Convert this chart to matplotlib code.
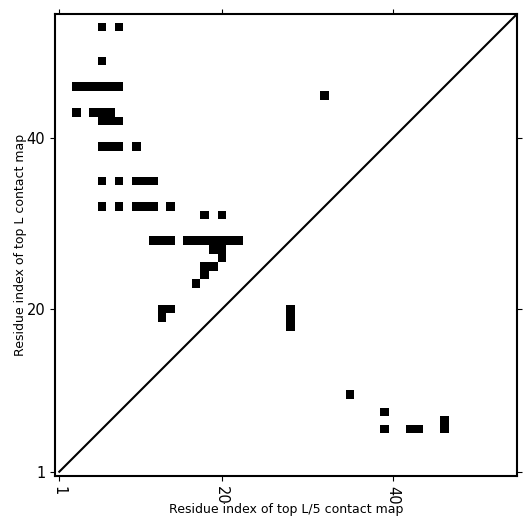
import matplotlib
matplotlib.use("Agg")
import matplotlib.pyplot as plt
import numpy as np

L = 54

# top L contacts (upper triangle), as (i, j) residue pairs
top_L_x = [6, 8, 6, 3, 4, 5, 6, 7, 8, 3, 5, 6, 7, 6, 7, 8,
           6, 7, 8, 10, 6, 8, 10, 11, 12, 6, 8, 10, 11, 12, 14,
           18, 20, 12, 13, 14, 16, 17, 18, 19, 20, 21, 22,
           19, 20, 20, 18, 19, 18, 17, 13, 14, 13, 32]
top_L_y = [53, 53, 49, 46, 46, 46, 46, 46, 46, 43, 43, 43, 43, 42, 42, 42,
           39, 39, 39, 39, 35, 35, 35, 35, 35, 32, 32, 32, 32, 32, 32,
           31, 31, 28, 28, 28, 28, 28, 28, 28, 28, 28, 28,
           27, 27, 26, 25, 25, 24, 23, 20, 20, 19, 45]

# top L/5 contacts (lower triangle)
top_L5_x = [28, 28, 28, 35, 39, 39, 42, 43, 46, 46]
top_L5_y = [18, 19, 20, 10, 8, 6, 6, 6, 6, 7]

ticks = [1, 20, 40]


def main():
    grid = np.zeros((L, L))
    for x, y in zip(top_L_x, top_L_y):
        grid[y - 1, x - 1] = 1
    for x, y in zip(top_L5_x, top_L5_y):
        grid[y - 1, x - 1] = 1

    fig = plt.figure(figsize=(5.31, 5.31), dpi=100)
    ax = fig.add_axes([55 / 531, 55 / 531, 462 / 531, 462 / 531])

    ax.imshow(grid, cmap="Greys", origin="lower", interpolation="nearest",
              extent=(0.5, L + 0.5, 0.5, L + 0.5), vmin=0, vmax=1)
    ax.plot([1, L + 1], [1, L + 1], color="black", lw=1.5)
    ax.set_xlim(0.5, L + 0.5)
    ax.set_ylim(0.5, L + 0.5)

    ax.set_xticks(ticks)
    ax.set_yticks(ticks)
    ax.set_xticklabels([str(t) for t in ticks], rotation=-90)
    ax.tick_params(top=True, right=True, labeltop=False, labelright=False,
                   labelsize=10.5)
    for s in ax.spines.values():
        s.set_linewidth(1.5)

    ax.set_xlabel("Residue index of top L/5 contact map", fontsize=9, labelpad=-1)
    ax.set_ylabel("Residue index of top L contact map", fontsize=9, labelpad=0)

    fig.savefig("out.png", dpi=100)


if __name__ == "__main__":
    main()
